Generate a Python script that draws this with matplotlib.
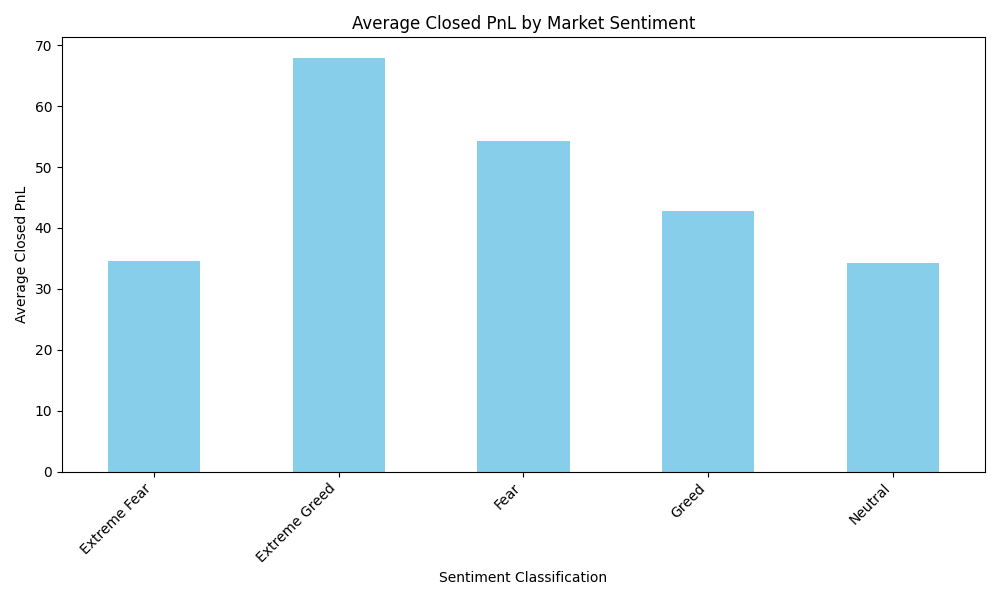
import pandas as pd
import matplotlib
matplotlib.use("Agg")
import matplotlib.pyplot as plt

sentiments = ["Extreme Fear", "Extreme Greed", "Fear", "Greed", "Neutral"]
avg_pnl = [34.5, 67.9, 54.3, 42.7, 34.3]

s = pd.Series(avg_pnl, index=sentiments)

plt.figure(figsize=(10, 6))
s.plot(kind="bar", color="skyblue")
plt.title("Average Closed PnL by Market Sentiment")
plt.xlabel("Sentiment Classification")
plt.ylabel("Average Closed PnL")
plt.xticks(rotation=45, ha="right")
plt.tight_layout()
plt.savefig("out.png", dpi=100)
